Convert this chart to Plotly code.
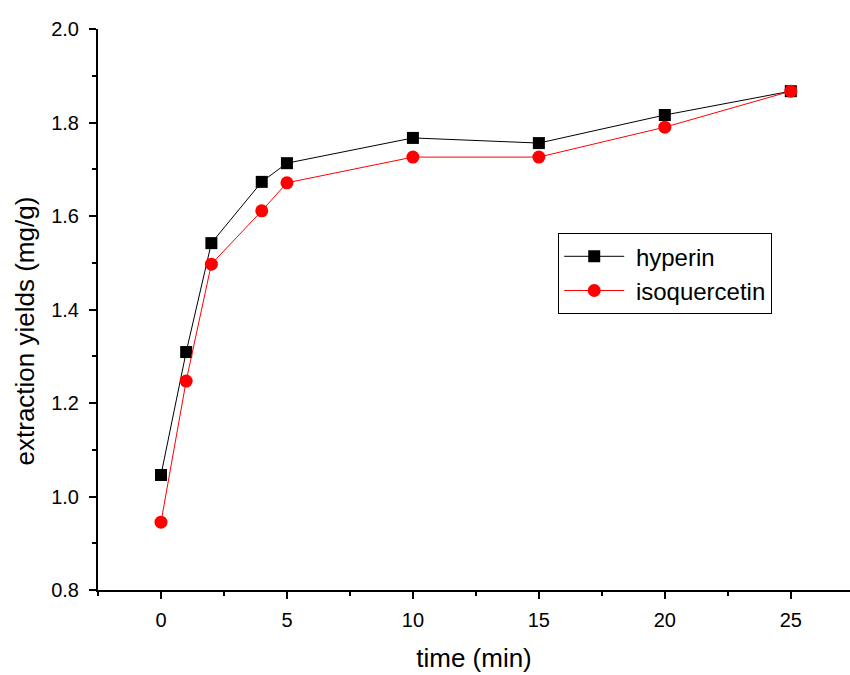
import plotly.graph_objects as go

time_min = [0, 1, 2, 4, 5, 10, 15, 20, 25]
hyperin = [1.046, 1.309, 1.542, 1.673, 1.713, 1.767, 1.756, 1.816, 1.867]
isoquercetin = [0.945, 1.247, 1.497, 1.611, 1.671, 1.726, 1.726, 1.790, 1.867]

fig = go.Figure()
fig.add_trace(go.Scatter(x=time_min, y=hyperin, mode="lines+markers", name=" hyperin",
                         line=dict(color="black", width=1),
                         marker=dict(symbol="square", size=12, color="black")))
fig.add_trace(go.Scatter(x=time_min, y=isoquercetin, mode="lines+markers", name=" isoquercetin",
                         line=dict(color="red", width=1),
                         marker=dict(symbol="circle", size=13, color="red")))

font = "Liberation Sans, Arial, sans-serif"
fig.update_layout(
    width=850, height=675,
    margin=dict(l=98, r=0, t=29, b=85),
    paper_bgcolor="white", plot_bgcolor="white",
    font=dict(family=font, color="black", size=20),
    showlegend=True,
    legend=dict(x=0.612, y=0.636, xanchor="left", yanchor="top",
                bordercolor="black", borderwidth=1, bgcolor="white",
                font=dict(size=24, family=font), tracegroupgap=0, itemwidth=60),
    annotations=[dict(text="extraction yields (mg/g)", textangle=-90,
                      xref="paper", yref="paper", x=-0.097, y=0.461,
                      xanchor="center", yanchor="middle", showarrow=False,
                      font=dict(size=26, family=font, color="black"))],
)
fig.update_xaxes(range=[-2.5, 27.35], tickvals=[0, 5, 10, 15, 20, 25],
                 showline=True, linecolor="black", linewidth=2,
                 ticks="outside", ticklen=7, tickwidth=2, tickcolor="black",
                 minor=dict(tickvals=[-2.5, 2.5, 7.5, 12.5, 17.5, 22.5], ticks="outside",
                            ticklen=4, tickwidth=2, tickcolor="black"),
                 showgrid=False, zeroline=False, ticklabelstandoff=4,
                 title=dict(text="time (min)", font=dict(size=26), standoff=19),
                 tickfont=dict(size=20))
fig.update_yaxes(range=[0.8, 2.0], tickvals=[0.8, 1.0, 1.2, 1.4, 1.6, 1.8, 2.0],
                 tickformat=".1f",
                 showline=True, linecolor="black", linewidth=2,
                 ticks="outside", ticklen=7, tickwidth=2, tickcolor="black",
                 minor=dict(tickvals=[0.9, 1.1, 1.3, 1.5, 1.7, 1.9], ticks="outside",
                            ticklen=4, tickwidth=2, tickcolor="black"),
                 showgrid=False, zeroline=False, ticklabelstandoff=6,
                 tickfont=dict(size=20))

fig.write_html("out.html")
